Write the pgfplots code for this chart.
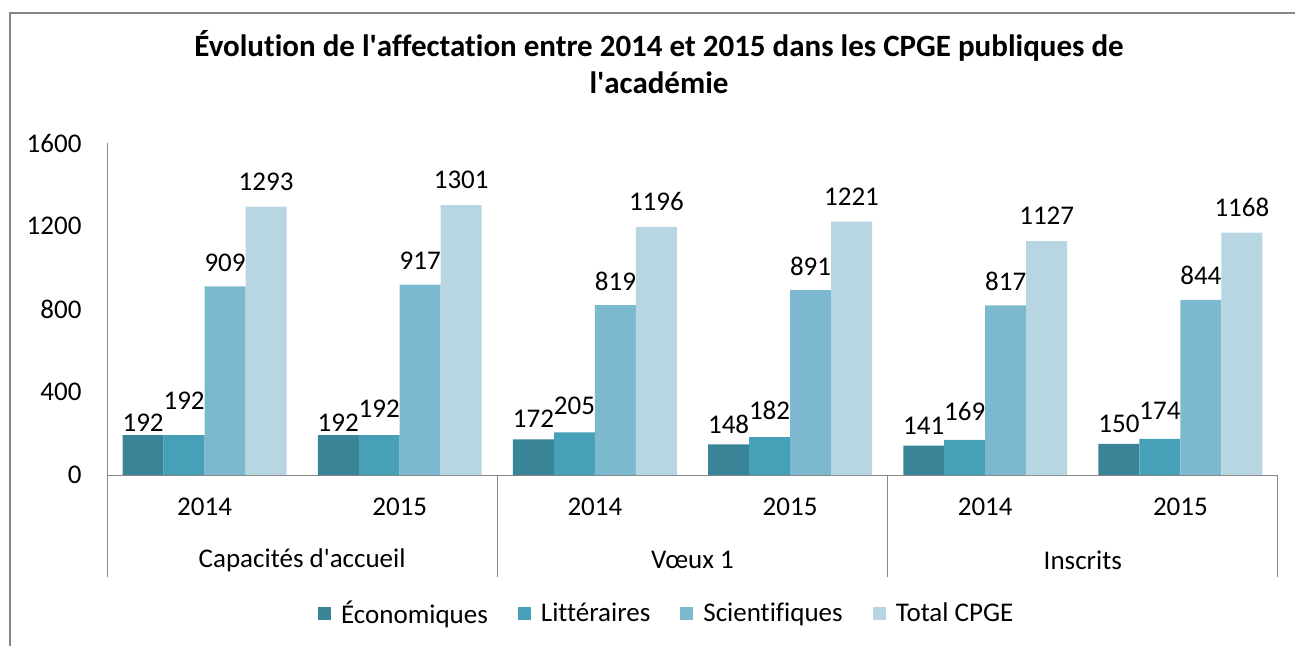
\documentclass[border=0pt]{standalone}
\usepackage{fontspec}
\setmainfont{Carlito}[Ligatures={NoCommon}]
\usepackage{pgfplots}
\usepackage{pgfplotstable}
\pgfplotsset{compat=1.18}
\definecolor{eco}{HTML}{3A8498}
\definecolor{lit}{HTML}{46A0B8}
\definecolor{sci}{HTML}{7DB9CE}
\definecolor{tot}{HTML}{B7D6E1}
\definecolor{axisgray}{HTML}{868686}
\newcommand\fs{\fontsize{27}{32}\selectfont}
\newcommand\q{\textquotesingle}
\pgfplotstableread{
x y off
0 192 12
1 192 12
2 172 21
3 148 20
4 141 20
5 150 20
}\eco
\pgfplotstableread{
x y off
0 192 34
1 192 26
2 205 27
3 182 27
4 169 28
5 174 28
}\lit
\pgfplotstableread{
x y off
0 909 24
1 917 24
2 819 24
3 891 24
4 817 24
5 844 24
}\sci
\pgfplotstableread{
x y off
0 1293 25
1 1301 25
2 1196 25
3 1221 25
4 1127 25
5 1168 25
}\tot
\begin{document}
\begin{tikzpicture}
\useasboundingbox (0,0) rectangle (1295pt,646pt);
\draw[axisgray, line width=1.2pt] (10pt,0pt) -- (10pt,633pt) -- (1295pt,633pt);
\node[font=\fontsize{31}{37}\selectfont\bfseries, align=center, inner sep=0pt] at (659pt,584pt) {Évolution de l\q{}affectation entre 2014 et 2015 dans les CPGE publiques de\\l\q{}académie};
\begin{axis}[
  at={(107pt,171pt)}, anchor=south west,
  scale only axis, width=1171pt, height=332pt,
  clip=false,
  ymin=0, ymax=1600, xmin=-0.5, xmax=5.5,
  ybar=0pt, bar width=0.21,
  axis x line=bottom, axis y line=left,
  axis line style={draw=axisgray, line width=1pt, -},
  ytick={0,400,800,1200,1600},
  xtick={0,1,2,3,4,5},
  xticklabels={2014,2015,2014,2015,2014,2015},
  major tick length=0pt,
  tick label style={font=\fs},
  /pgf/number format/assume math mode=true,
  /pgf/number format/1000 sep={},
  xticklabel style={anchor=center, yshift=-32pt},
  yticklabel style={anchor=east, xshift=-22pt},
  nodes near coords,
  visualization depends on={\thisrow{off} \as \off},
  every node near coord/.append style={font=\fs, anchor=center, inner sep=0pt, yshift=\off pt, text=black},
  legend style={at={(0.478,-0.4157)}, anchor=center, draw=none, legend columns=4, font=\fs,
    /tikz/every odd column/.style={column sep=8pt},
    /tikz/every even column/.style={column sep=28pt}},
  legend image code/.code={\fill[#1] (0pt,-6.5pt) rectangle (13pt,6.5pt);},
]
\addplot[fill=eco, draw=none] table[x=x,y=y] {\eco};
\addplot[fill=lit, draw=none] table[x=x,y=y] {\lit};
\addplot[fill=sci, draw=none] table[x=x,y=y] {\sci};
\addplot[fill=tot, draw=none] table[x=x,y=y] {\tot};
\legend{Économiques, Littéraires, Scientifiques, Total CPGE}
\draw[axisgray, line width=1pt] (axis cs:-0.5,0) -- ++(0pt,-102pt);
\draw[axisgray, line width=1pt] (axis cs:1.5,0) -- ++(0pt,-102pt);
\draw[axisgray, line width=1pt] (axis cs:3.5,0) -- ++(0pt,-102pt);
\draw[axisgray, line width=1pt] (axis cs:5.5,0) -- ++(0pt,-102pt);
\node[font=\fs] at (axis cs:0.5,0) [yshift=-85pt] {Capacités d\q{}accueil};
\node[font=\fs] at (axis cs:2.5,0) [yshift=-85pt] {Vœux 1};
\node[font=\fs] at (axis cs:4.5,0) [yshift=-85pt] {Inscrits};
\end{axis}
\end{tikzpicture}
\end{document}
